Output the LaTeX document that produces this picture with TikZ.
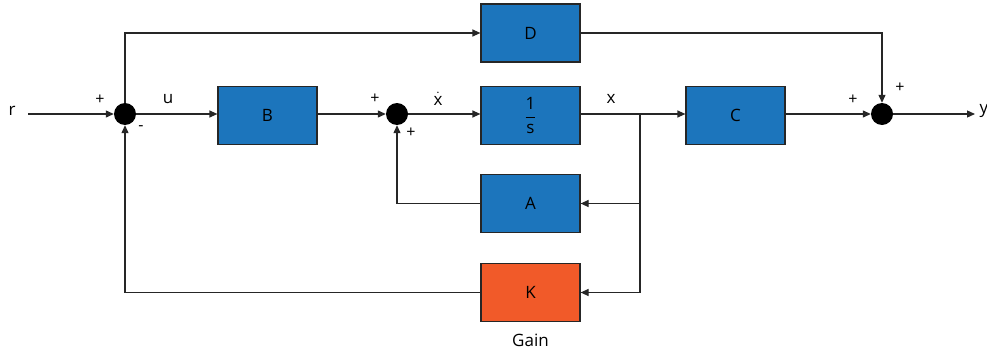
\documentclass[tikz,border=0pt]{standalone}
\usepackage{fontspec}
\setmainfont{Open Sans}
\usetikzlibrary{arrows.meta}
\definecolor{blk}{HTML}{1C75BC}
\definecolor{gainc}{HTML}{F15A29}
\begin{document}
\begin{tikzpicture}[x=1pt,y=-1pt,
  blockbox/.style={draw=black!85,line width=1.2pt,fill=blk,minimum width=99pt,minimum height=58pt,inner sep=0pt,font=\fontsize{17}{19}\selectfont},
  sumdot/.style={circle,fill=black,minimum size=22pt,inner sep=0pt},
  conn/.style={line width=1.2pt,draw=black!85},
  arr/.style={conn,-{Triangle[length=8pt,width=7pt]}},
  lbl/.style={font=\fontsize{17}{19}\selectfont,inner sep=0pt},
  sgn/.style={font=\fontsize{16}{18}\selectfont,inner sep=0pt}]
\useasboundingbox (0,0) rectangle (987,353);
% blocks
\node[blockbox] (D) at (530.5,33) {D};
\node[blockbox] (B) at (267.5,115.5) {B};
\node[blockbox] (I) at (530.5,115.5) {$\displaystyle\frac{\mbox{1}}{\mbox{s}}$};
\node[blockbox] (C) at (735.5,115.5) {C};
\node[blockbox] (A) at (530.5,203.5) {A};
\node[blockbox,fill=gainc] (K) at (530.5,292.5) {K};
\node[lbl] (gain) at (530.5,340) {Gain};
% sums
\node[sumdot] (s1) at (125,114) {};
\node[sumdot] (s2) at (397,114) {};
\node[sumdot] (s3) at (882,114) {};
% terminals
\node[lbl] (r) at (12,111) {r};
\node[lbl] (y) at (984,111) {y};
\coordinate (rin) at (28,114);
\coordinate (yout) at (975,114);
\coordinate (br) at (640,114);
% main path
\draw[arr] (rin) -- (s1);
\draw[arr] (s1) -- (B.west |- s1);
\draw[arr] (B.east |- s2) -- (s2);
\draw[arr] (s2) -- (I.west |- s2);
\draw[conn] (I.east |- br) -- (br);
\draw[arr] (br) -- (C.west |- br);
\draw[arr] (C.east |- s3) -- (s3);
\draw[arr] (s3) -- (yout);
% D feedthrough
\draw[arr] (s1) |- (D.west);
\draw[arr] (D.east) -| (s3);
% A loop
\draw[arr] (br) |- (A.east);
\draw[arr] (A.west) -| (s2);
% K loop
\draw[arr] (br) |- (K.east);
\draw[arr] (K.west) -| (s1);
% labels
\node[sgn] at (100,100) {+};
\node[lbl] at (168,99) {u};
\node[sgn] at (141,128) {-};
\node[sgn] at (375,99) {+};
\node[lbl] at (438,99) {$\dot{\mbox{x}}$};
\node[sgn] at (411,133) {+};
\node[lbl] at (611,99) {x};
\node[sgn] at (853,100) {+};
\node[sgn] at (900,88) {+};
\end{tikzpicture}
\end{document}
